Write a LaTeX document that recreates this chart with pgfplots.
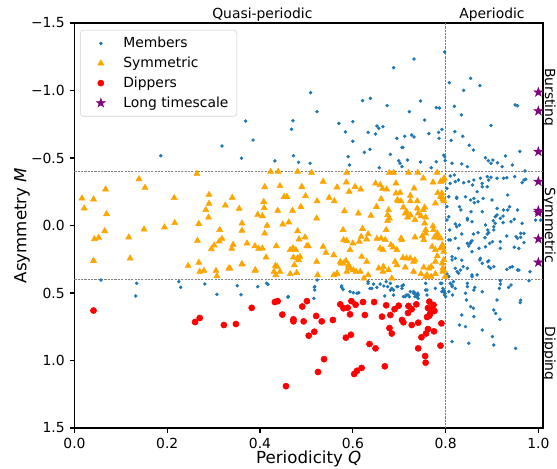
\documentclass[border=0pt]{standalone}
\usepackage{pgfplots}
\pgfplotsset{compat=1.18}
\usepackage{fontspec}
\setmainfont{DejaVu Sans}
\usetikzlibrary{plotmarks}

\definecolor{memblue}{HTML}{1F77B4}
\definecolor{symorange}{HTML}{FFA500}
\definecolor{dipred}{HTML}{FF0000}
\definecolor{longpurple}{HTML}{800080}

% filled five-pointed star
\pgfdeclareplotmark{fstar}{%
  \pgfpathmoveto{\pgfpointpolar{90}{\pgfplotmarksize}}%
  \pgfpathlineto{\pgfpointpolar{126}{0.382\pgfplotmarksize}}%
  \pgfpathlineto{\pgfpointpolar{162}{\pgfplotmarksize}}%
  \pgfpathlineto{\pgfpointpolar{198}{0.382\pgfplotmarksize}}%
  \pgfpathlineto{\pgfpointpolar{234}{\pgfplotmarksize}}%
  \pgfpathlineto{\pgfpointpolar{270}{0.382\pgfplotmarksize}}%
  \pgfpathlineto{\pgfpointpolar{306}{\pgfplotmarksize}}%
  \pgfpathlineto{\pgfpointpolar{342}{0.382\pgfplotmarksize}}%
  \pgfpathlineto{\pgfpointpolar{18}{\pgfplotmarksize}}%
  \pgfpathlineto{\pgfpointpolar{54}{0.382\pgfplotmarksize}}%
  \pgfpathclose
  \pgfusepathqfillstroke}

\begin{document}
\begin{tikzpicture}
\begin{axis}[
  at={(0,0)}, anchor=south west,
  scale only axis, width=337.3pt, height=291.6pt,
  xmin=0, xmax=1.01, ymin=-1.5, ymax=1.5,
  y dir=reverse,
  axis line style={line width=0.8pt},
  tick align=outside, major tick length=3.5pt,
  tick style={line width=0.8pt, black},
  xtick pos=bottom, ytick pos=left,
  xtick={0,0.2,0.4,0.6,0.8,1.0},
  xticklabels={0.0,0.2,0.4,0.6,0.8,1.0},
  ytick={-1.5,-1,-0.5,0,0.5,1,1.5},
  yticklabels={−1.5,−1.0,−0.5,0.0,0.5,1.0,1.5},
  ticklabel style={font=\fontsize{10}{12}\selectfont},
  xlabel={Periodicity \textit{Q}},
  ylabel={Asymmetry \textit{M}},
  label style={font=\fontsize{12}{14}\selectfont},
  xlabel style={at={(axis description cs:0.5,0)}, anchor=center, yshift=-22.5pt},
  ylabel style={at={(axis description cs:-0.112,0.5)}, anchor=center},
  legend style={at={(0.012,0.983)}, anchor=north west,
    font=\fontsize{10}{12}\selectfont, draw=black!18, rounded corners=2pt,
    row sep=1.2pt, inner xsep=4pt, inner ysep=3pt},
  legend cell align=left,
  legend image code/.code={%
    \path (0cm,0cm) (0.86cm,0cm);
    \draw[#1] plot coordinates {(0.37cm,0cm)};},
  clip=false,
]
% region boundaries
\draw[gray, line width=0.45pt, dash pattern=on 1.6pt off 0.8pt] (axis cs:0,-0.4) -- (axis cs:1.01,-0.4);
\draw[gray, line width=0.45pt, dash pattern=on 1.6pt off 0.8pt] (axis cs:0,0.4) -- (axis cs:1.01,0.4);
\draw[gray, line width=0.45pt, dash pattern=on 1.6pt off 0.8pt] (axis cs:0.8,-1.5) -- (axis cs:0.8,1.5);

\addplot[only marks, mark=*, mark size=1.05pt, color=memblue, mark options={draw=none, fill=memblue}] table {
0.688 -1.169
0.732 -1.233
0.798 -1.285
0.808 -1.058
0.854 -1.090
0.839 -1.001
0.874 -1.036
0.509 -0.984
0.621 -0.925
0.638 -0.942
0.674 -0.888
0.746 -0.922
0.523 -0.843
0.722 -0.843
0.780 -0.873
0.787 -0.870
0.819 -0.883
0.834 -0.819
0.950 -0.893
0.955 -0.887
0.755 -0.781
0.898 -0.741
0.369 -0.774
0.471 -0.776
0.468 -0.713
0.570 -0.757
0.600 -0.770
0.584 -0.693
0.633 -0.690
0.652 -0.737
0.656 -0.720
0.665 -0.732
0.649 -0.678
0.712 -0.661
0.727 -0.670
0.732 -0.656
0.764 -0.680
0.785 -0.690
0.792 -0.712
0.786 -0.646
0.820 -0.695
0.812 -0.631
0.837 -0.661
0.851 -0.594
0.860 -0.559
0.706 -0.577
0.708 -0.579
0.600 -0.624
0.385 -0.633
0.695 -0.646
0.318 -0.589
0.186 -0.517
0.360 -0.498
0.432 -0.478
0.472 -0.517
0.483 -0.468
0.508 -0.461
0.590 -0.510
0.593 -0.448
0.625 -0.542
0.637 -0.564
0.681 -0.527
0.699 -0.480
0.702 -0.461
0.706 -0.436
0.718 -0.485
0.657 -0.428
0.746 -0.470
0.780 -0.472
0.769 -0.428
0.796 -0.520
0.798 -0.510
0.799 -0.480
0.960 -0.549
0.814 -0.461
0.835 -0.456
0.847 -0.436
0.886 -0.502
0.892 -0.479
0.902 -0.485
0.898 -0.461
0.912 -0.465
0.922 -0.436
0.929 -0.515
0.944 -0.448
0.971 -0.404
0.965 -0.317
0.969 -0.337
0.819 -0.374
0.810 -0.367
0.828 -0.337
0.810 -0.312
0.821 -0.325
0.839 -0.317
0.850 -0.325
0.858 -0.300
0.861 -0.337
0.875 -0.350
0.879 -0.312
0.890 -0.362
0.893 -0.337
0.898 -0.357
0.911 -0.350
0.925 -0.350
0.932 -0.354
0.949 -0.362
0.973 -0.343
0.879 -0.287
0.890 -0.287
0.868 -0.250
0.803 -0.275
0.807 -0.213
0.824 -0.201
0.843 -0.213
0.861 -0.201
0.881 -0.201
0.900 -0.189
0.854 -0.189
0.824 -0.209
0.830 -0.139
0.862 -0.169
0.870 -0.176
0.934 -0.226
0.938 -0.139
0.925 -0.115
0.955 -0.115
0.911 -0.078
0.907 -0.065
0.879 -0.102
0.855 -0.102
0.833 -0.115
0.911 -0.127
0.934 -0.115
0.924 -0.070
0.803 -0.140
0.807 -0.065
0.803 -0.041
0.809 0.033
0.821 -0.011
0.830 -0.004
0.847 -0.053
0.857 -0.028
0.870 0.053
0.860 0.063
0.891 0.033
0.893 0.053
0.903 -0.036
0.924 -0.021
0.941 -0.028
0.955 0.095
0.952 0.083
0.962 0.058
0.918 0.120
0.901 0.120
0.895 0.132
0.855 0.120
0.853 0.132
0.850 0.152
0.835 0.063
0.821 0.095
0.807 0.107
0.872 0.169
0.857 0.194
0.828 0.169
0.814 0.231
0.824 0.009
0.847 -0.041
0.886 -0.004
0.904 0.009
0.907 -0.016
0.918 -0.053
0.948 -0.046
0.810 0.107
0.847 0.132
0.857 0.113
0.885 0.090
0.890 0.063
0.904 0.033
0.932 0.078
0.962 0.087
0.886 0.157
0.918 0.169
0.948 0.161
0.958 0.169
0.821 0.243
0.835 0.257
0.875 0.243
0.893 0.261
0.879 0.280
0.838 0.305
0.857 0.379
0.904 0.305
0.939 0.310
0.958 0.330
0.980 0.409
0.814 0.255
0.821 0.317
0.825 0.342
0.828 0.354
0.832 0.330
0.847 0.317
0.857 0.366
0.868 0.366
0.874 0.255
0.891 0.268
0.893 0.305
0.897 0.317
0.932 0.325
0.944 0.305
0.955 0.330
0.918 0.409
0.941 0.441
0.803 0.359
0.807 0.379
0.817 0.416
0.814 0.453
0.847 0.428
0.861 0.478
0.879 0.491
0.918 0.434
0.936 0.458
0.796 0.478
0.798 0.515
0.800 0.527
0.810 0.428
0.814 0.441
0.794 0.466
0.796 0.490
0.807 0.490
0.847 0.453
0.863 0.458
0.916 0.466
0.843 0.502
0.845 0.552
0.854 0.601
0.860 0.613
0.861 0.675
0.835 0.663
0.830 0.737
0.843 0.749
0.879 0.774
0.904 0.626
0.911 0.552
0.908 0.651
0.917 0.695
0.961 0.571
0.814 0.860
0.850 0.872
0.901 0.823
0.904 0.885
0.951 0.910
0.965 -0.016
0.969 0.058
0.969 0.127
0.994 -0.040
1.005 -0.040
0.982 0.342
0.962 0.553
0.057 0.404
0.134 0.428
0.132 0.522
0.225 0.416
0.229 0.458
0.281 0.433
0.307 0.510
0.351 0.446
0.359 0.513
0.395 0.453
0.414 0.428
0.417 0.436
0.460 0.530
0.516 0.540
0.517 0.456
0.523 0.404
0.576 0.448
0.576 0.458
0.601 0.498
0.613 0.498
0.633 0.428
0.637 0.466
0.641 0.466
0.652 0.458
0.667 0.448
0.669 0.522
0.681 0.428
0.688 0.478
0.688 0.515
0.697 0.453
0.706 0.448
0.709 0.527
0.719 0.515
0.731 0.490
0.734 0.527
0.740 0.502
0.741 0.515
0.757 0.478
0.792 0.428
0.799 0.502
0.815 0.515
0.821 0.466
0.518 0.453
0.518 0.478
0.579 0.473
0.594 0.490
0.609 0.502
0.633 0.416
0.645 0.434
0.659 0.434
0.672 0.416
0.675 0.453
0.681 0.478
0.684 0.466
0.695 0.453
0.706 0.466
0.715 0.515
0.722 0.527
0.731 0.502
0.738 0.515
0.741 0.540
0.757 0.428
0.760 0.478
0.760 0.515
0.709 0.440
0.724 0.490
0.734 0.502
0.738 0.527
0.713 0.527
0.778 0.466
0.789 0.428
0.792 0.490
0.461 0.527
};
\addlegendentry{Members}

\addplot[only marks, mark=triangle*, mark size=2.5pt, color=symorange, mark options={draw=symorange, fill=symorange}] table {
0.016 -0.201
0.021 -0.127
0.041 -0.194
0.067 -0.268
0.069 -0.085
0.043 0.100
0.052 0.090
0.065 0.041
0.041 0.261
0.117 0.087
0.120 0.243
0.139 -0.344
0.152 -0.280
0.150 0.028
0.194 0.013
0.215 -0.204
0.216 -0.019
0.245 0.298
0.264 -0.384
0.265 0.112
0.268 -0.013
0.268 0.275
0.270 0.342
0.279 0.335
0.283 -0.115
0.290 -0.228
0.290 -0.162
0.289 -0.060
0.295 0.174
0.301 0.147
0.305 0.335
0.307 0.374
0.313 0.033
0.312 0.117
0.318 0.098
0.325 -0.149
0.339 0.172
0.340 -0.206
0.342 0.142
0.333 0.317
0.355 -0.125
0.361 -0.016
0.361 0.038
0.361 0.288
0.372 0.132
0.389 0.152
0.390 0.330
0.395 -0.080
0.397 0.172
0.405 0.169
0.405 -0.070
0.408 -0.176
0.409 -0.130
0.413 0.236
0.410 -0.285
0.415 0.001
0.410 0.058
0.423 -0.399
0.430 0.342
0.433 0.298
0.435 0.152
0.438 -0.110
0.439 -0.399
0.443 -0.293
0.449 -0.009
0.452 -0.213
0.458 -0.213
0.462 -0.024
0.465 0.181
0.470 -0.110
0.471 0.167
0.472 0.236
0.474 0.293
0.477 0.181
0.481 -0.399
0.481 0.041
0.484 0.102
0.481 0.241
0.486 0.231
0.488 -0.139
0.490 -0.287
0.498 -0.219
0.501 0.152
0.511 -0.391
0.587 -0.391
0.679 -0.391
0.688 -0.391
0.720 -0.391
0.740 -0.391
0.782 -0.391
0.797 -0.350
0.794 -0.332
0.536 -0.325
0.566 -0.283
0.586 -0.320
0.592 -0.251
0.605 -0.287
0.617 -0.268
0.523 -0.181
0.549 -0.206
0.560 -0.181
0.582 -0.107
0.612 -0.090
0.639 -0.073
0.649 -0.312
0.659 -0.300
0.664 -0.273
0.673 -0.268
0.693 -0.312
0.693 -0.238
0.702 -0.243
0.696 -0.189
0.698 -0.180
0.704 -0.180
0.724 -0.221
0.732 -0.275
0.752 -0.350
0.773 -0.320
0.783 -0.241
0.790 -0.215
0.794 -0.200
0.796 -0.180
0.778 -0.164
0.724 -0.181
0.739 -0.181
0.661 -0.196
0.651 -0.139
0.677 -0.115
0.675 -0.078
0.679 -0.053
0.675 -0.036
0.709 -0.135
0.713 -0.090
0.716 -0.102
0.724 -0.076
0.718 -0.061
0.739 -0.127
0.741 -0.090
0.747 -0.070
0.734 -0.041
0.752 -0.115
0.755 -0.135
0.757 -0.061
0.755 -0.016
0.522 -0.053
0.497 0.087
0.504 0.152
0.536 0.157
0.542 0.201
0.559 0.219
0.579 0.033
0.580 0.107
0.587 0.113
0.594 0.181
0.600 0.132
0.621 0.024
0.618 0.083
0.614 0.120
0.633 0.063
0.630 0.102
0.652 0.098
0.661 0.095
0.672 0.033
0.670 0.107
0.659 0.169
0.665 0.181
0.682 0.144
0.687 0.161
0.695 0.181
0.704 0.095
0.706 0.107
0.734 0.087
0.750 0.078
0.753 0.107
0.757 0.033
0.757 0.058
0.773 0.004
0.774 0.033
0.782 0.058
0.776 0.087
0.783 0.087
0.771 0.157
0.778 0.181
0.782 0.226
0.778 0.268
0.573 0.268
0.580 0.280
0.585 0.261
0.591 0.305
0.594 0.317
0.601 0.330
0.607 0.342
0.616 0.342
0.619 0.231
0.630 0.268
0.633 0.367
0.624 0.391
0.566 0.354
0.559 0.367
0.656 0.317
0.666 0.305
0.665 0.342
0.677 0.330
0.691 0.268
0.695 0.293
0.684 0.391
0.708 0.239
0.716 0.243
0.724 0.243
0.731 0.268
0.734 0.257
0.713 0.310
0.731 0.342
0.747 0.359
0.753 0.310
0.757 0.379
0.764 0.317
0.760 0.367
0.769 0.305
0.778 0.359
0.769 0.379
0.793 0.280
0.794 0.342
0.799 0.379
0.794 0.317
0.793 0.144
0.796 0.194
0.789 0.095
0.335 0.317
0.361 0.285
0.389 0.335
0.437 0.305
0.434 0.367
0.443 0.342
0.465 0.359
0.479 0.350
0.483 0.256
0.522 0.268
0.524 0.367
0.566 0.359
0.575 0.280
0.591 0.293
0.587 0.342
0.789 -0.325
0.795 -0.337
0.792 -0.238
0.789 -0.213
0.795 -0.194
0.792 0.157
0.789 0.169
0.796 0.255
0.796 0.330
};
\addlegendentry{Symmetric}

\addplot[only marks, mark=*, mark size=2.2pt, color=dipred, mark options={draw=dipred, fill=dipred}] table {
0.041 0.630
0.260 0.715
0.270 0.685
0.322 0.737
0.348 0.730
0.382 0.610
0.432 0.567
0.438 0.560
0.448 0.660
0.472 0.695
0.472 0.710
0.491 0.600
0.501 0.560
0.494 0.710
0.521 0.670
0.533 0.710
0.517 0.787
0.505 0.816
0.557 0.700
0.538 0.990
0.525 1.085
0.456 1.190
0.573 0.584
0.580 0.613
0.589 0.609
0.597 0.560
0.606 0.587
0.622 0.567
0.646 0.567
0.594 0.658
0.626 0.663
0.585 0.831
0.596 0.809
0.636 0.878
0.649 0.910
0.619 1.055
0.609 1.076
0.603 1.100
0.669 1.043
0.663 0.675
0.681 0.663
0.672 0.591
0.690 0.620
0.699 0.594
0.679 0.760
0.684 0.800
0.706 0.700
0.709 0.717
0.720 0.596
0.727 0.620
0.737 0.584
0.719 0.648
0.727 0.737
0.741 0.720
0.765 0.564
0.762 0.611
0.774 0.589
0.771 0.626
0.776 0.633
0.767 0.650
0.760 0.678
0.765 0.668
0.791 0.725
0.762 0.767
0.758 0.800
0.775 0.784
0.748 0.828
0.741 0.910
0.789 0.890
0.756 0.967
0.757 1.016
};
\addlegendentry{Dippers}

\addplot[only marks, mark=fstar, mark size=3.4pt, color=longpurple, mark options={draw=longpurple, fill=longpurple}] table {
1.0 -0.987
1.0 -0.848
1.0 -0.547
1.0 -0.325
1.0 -0.110
1.0 -0.095
1.0 0.100
1.0 0.273
};
\addlegendentry{Long timescale}

% region names
\node[anchor=base, font=\fontsize{10}{12}\selectfont] at ([yshift=3pt]axis cs:0.405,-1.5) {Quasi-periodic};
\node[anchor=base, font=\fontsize{10}{12}\selectfont] at ([yshift=3pt]axis cs:0.9,-1.5) {Aperiodic};
\node[anchor=base, rotate=-90, font=\fontsize{10}{12}\selectfont] at ([xshift=1.5pt]axis cs:1.01,-0.95) {Bursting};
\node[anchor=base, rotate=-90, font=\fontsize{10}{12}\selectfont] at ([xshift=1.5pt]axis cs:1.01,0) {Symmetric};
\node[anchor=base, rotate=-90, font=\fontsize{10}{12}\selectfont] at ([xshift=1.5pt]axis cs:1.01,0.95) {Dipping};
\end{axis}
\pgfresetboundingbox
\path (-53.64pt,-28.8pt) rectangle (347.4pt,308.16pt);
\end{tikzpicture}
\end{document}
